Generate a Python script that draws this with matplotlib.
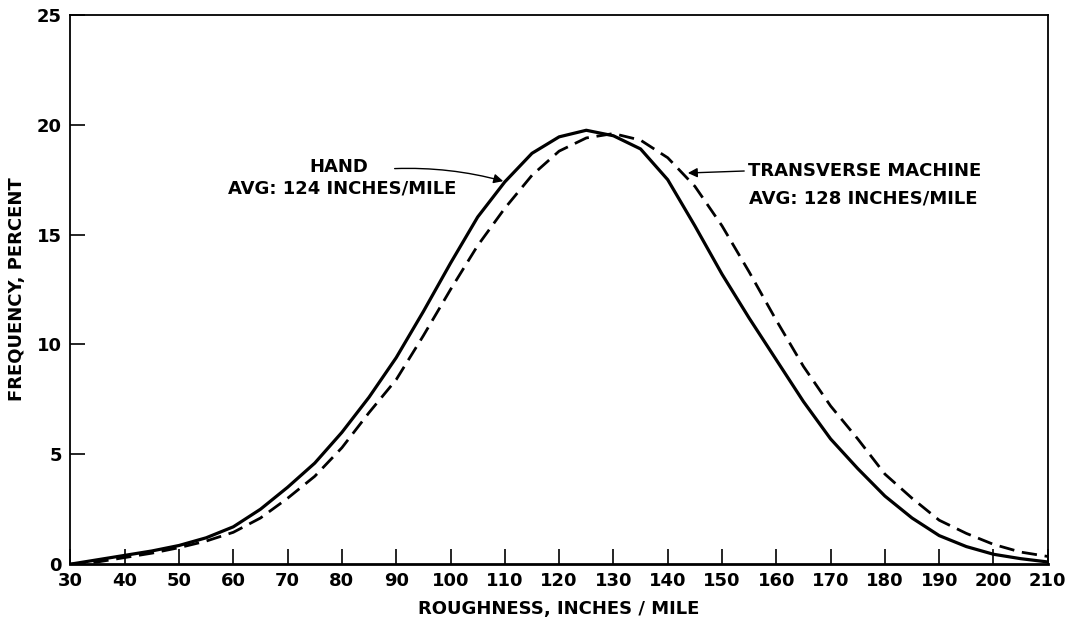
import matplotlib
matplotlib.use("Agg")
from matplotlib import pyplot as plt

# roughness, inches/mile
roughness = [30, 35, 40, 45, 50, 55, 60, 65, 70, 75, 80, 85, 90, 95, 100,
             105, 110, 115, 120, 125, 130, 135, 140, 145, 150, 155, 160,
             165, 170, 175, 180, 185, 190, 195, 200, 205, 210]

# frequency, percent - hand method (solid)
hand = [0.0, 0.2, 0.4, 0.6, 0.85, 1.2, 1.7, 2.5, 3.5, 4.6, 6.0, 7.6, 9.4,
        11.5, 13.7, 15.8, 17.4, 18.7, 19.45, 19.75, 19.5, 18.9, 17.5, 15.4,
        13.2, 11.2, 9.3, 7.4, 5.7, 4.35, 3.1, 2.1, 1.3, 0.8, 0.45, 0.25, 0.1]

# frequency, percent - transverse machine (dashed)
machine = [0.0, 0.1, 0.3, 0.5, 0.75, 1.05, 1.45, 2.1, 3.0, 4.0, 5.3, 6.9,
           8.4, 10.4, 12.5, 14.5, 16.2, 17.7, 18.8, 19.4, 19.6, 19.3, 18.5,
           17.2, 15.4, 13.3, 11.1, 9.0, 7.2, 5.7, 4.1, 3.0, 2.0, 1.4, 0.9,
           0.55, 0.35]

xticks = list(range(30, 211, 10))
yticks = [0, 5, 10, 15, 20, 25]

plt.rcParams['font.family'] = ['DejaVu Sans']
plt.rcParams['font.weight'] = 'bold'
FS = 13

fig = plt.figure(figsize=(10.67, 6.22), dpi=100)
ax = fig.add_axes([0.066, 0.093, 0.916, 0.883])

ax.plot(roughness, hand, color='black', lw=2.3, solid_joinstyle='round')
ax.plot(roughness, machine, color='black', lw=2.0, dashes=(5.5, 2.8))

ax.set_xlim(30, 210)
ax.set_ylim(0, 25)
ax.set_xticks(xticks)
ax.set_yticks(yticks)
ax.tick_params(direction='in', length=11, width=1.2, labelsize=FS, pad=6)
for lab in ax.get_xticklabels() + ax.get_yticklabels():
    lab.set_fontweight('bold')
for s in ['left', 'right', 'top']:
    ax.spines[s].set_linewidth(1.3)
ax.spines['bottom'].set_linewidth(2.0)

ax.set_xlabel('ROUGHNESS, INCHES / MILE', fontsize=FS, fontweight='bold', labelpad=7)
ax.set_ylabel('FREQUENCY, PERCENT', fontsize=FS, fontweight='bold', labelpad=8)

# annotations
ax.text(79.5, 18.1, 'HAND', fontsize=FS, fontweight='bold', ha='center', va='center')
ax.text(59.0, 17.1, 'AVG: 124 INCHES/MILE', fontsize=FS, fontweight='bold',
        ha='left', va='center')
ax.annotate('', xy=(110.2, 17.4), xytext=(89.2, 18.0),
            arrowprops=dict(arrowstyle='-|>', color='black', lw=1.0,
                            mutation_scale=14, connectionstyle='arc3,rad=-0.08'))

ax.text(154.8, 17.9, 'TRANSVERSE MACHINE', fontsize=FS, fontweight='bold',
        ha='left', va='center')
ax.text(154.9, 16.65, 'AVG: 128 INCHES/MILE', fontsize=FS, fontweight='bold',
        ha='left', va='center')
ax.annotate('', xy=(143.2, 17.8), xytext=(154.6, 17.9),
            arrowprops=dict(arrowstyle='-|>', color='black', lw=1.0,
                            mutation_scale=14))

fig.savefig('out.png', dpi=100)
